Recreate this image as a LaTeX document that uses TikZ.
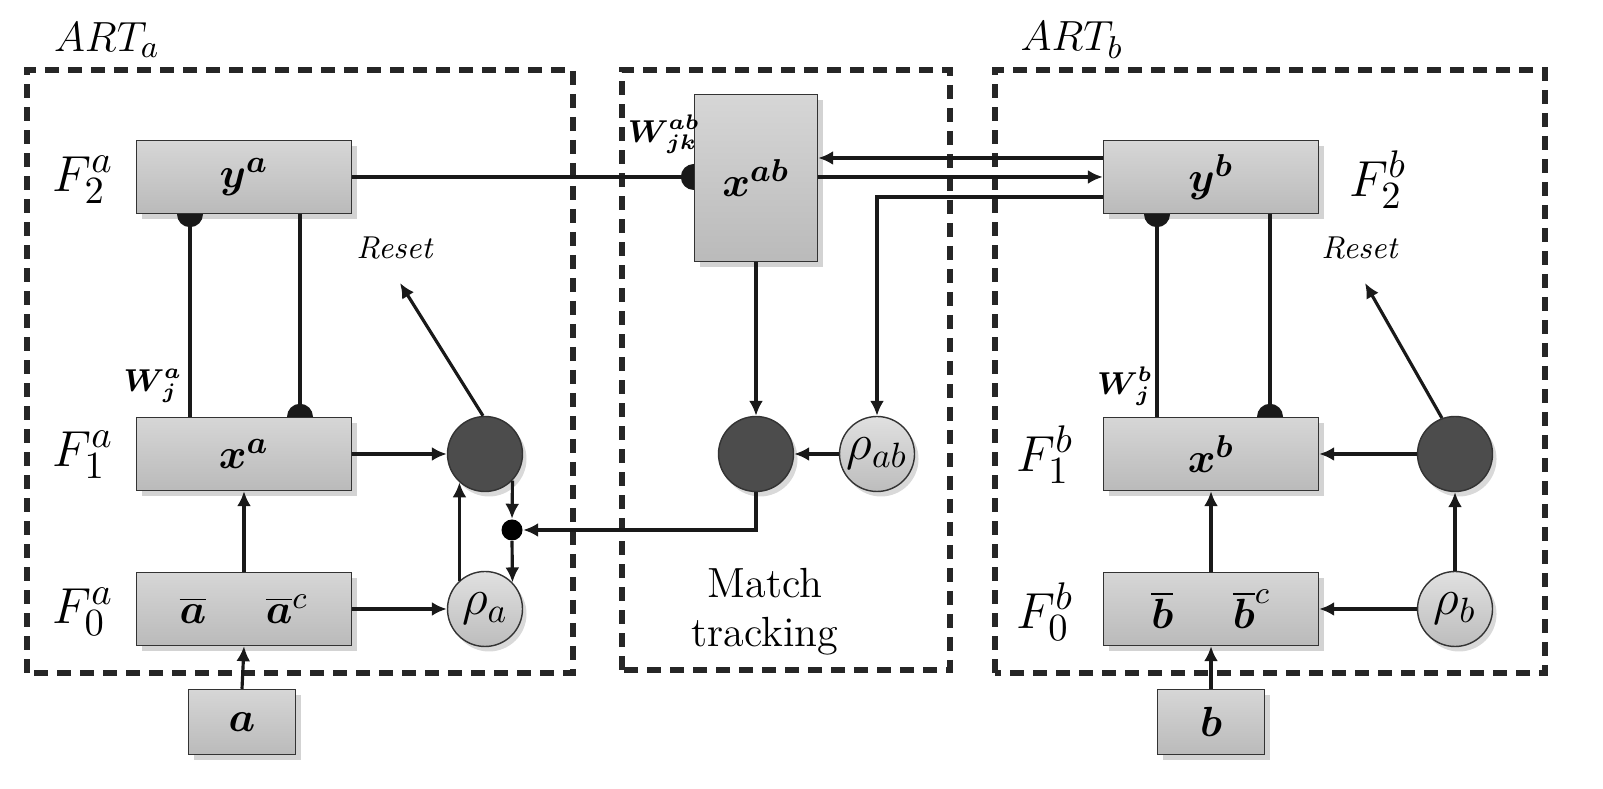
\documentclass[tikz,border=0pt]{standalone}
\usepackage{bm}
\usetikzlibrary{arrows.meta,shadows}

\tikzset{wdot/.pic={\fill[black!90] (-0.13,0) arc[start angle=180,end angle=360,radius=0.13] -- cycle;}}

\begin{document}
\begin{tikzpicture}[>={Latex[length=1.5mm,width=1.4mm]},
  layer/.style={rectangle,draw=black!80,line width=0.4pt,top color=black!16,bottom color=black!27,
    minimum width=2.15cm,minimum height=0.73cm,inner sep=0pt,
    drop shadow={shadow xshift=0.5mm,shadow yshift=-0.6mm,opacity=0.35},font=\fontsize{13}{15}\selectfont},
  inbox/.style={layer,minimum width=1.07cm,minimum height=0.65cm},
  gate/.style={circle,draw=black!80,line width=0.4pt,fill=black!70,minimum size=0.75cm,inner sep=0pt,
    drop shadow={shadow xshift=0.4mm,shadow yshift=-0.5mm,opacity=0.3}},
  vig/.style={circle,draw=black!80,line width=0.4pt,top color=black!12,bottom color=black!26,
    minimum size=0.75cm,inner sep=0pt,drop shadow={shadow xshift=0.4mm,shadow yshift=-0.5mm,opacity=0.3},
    font=\fontsize{14}{16}\selectfont},
  modbox/.style={draw=black!85,line width=1.5pt,dash pattern=on 1.4mm off 0.9mm},
  link/.style={line width=0.9pt,black!90},
  lbl/.style={font=\fontsize{15}{17}\selectfont},
  small/.style={font=\fontsize{9}{11}\selectfont}]
\useasboundingbox (0,0) rectangle (16.03,7.89);

% modules
\draw[modbox] (0.27,1.16) rectangle (5.73,7.19);
\draw[modbox] (6.22,1.19) rectangle (9.50,7.19);
\draw[modbox] (9.95,1.16) rectangle (15.45,7.19);
\node[font=\fontsize{13}{15}\selectfont] (arta) at (1.07,7.49) {$ART_a$};
\node[font=\fontsize{13}{15}\selectfont] (artb) at (10.72,7.49) {$ART_b$};

% ART a
\node[layer] (ya) at (2.44,6.12) {$\bm{y^a}$};
\node[layer] (xa) at (2.44,3.35) {$\bm{x^a}$};
\node[layer] (fa) at (2.44,1.80) {$\overline{\bm{a}}\hspace{1.3em}\overline{\bm{a}}^{c}$};
\node[inbox] (ina) at (2.42,0.67) {$\bm{a}$};
\node[gate] (resa) at (4.85,3.35) {};
\node[vig] (rhoa) at (4.85,1.80) {$\rho_a$};
\node[circle,fill=black,minimum size=0.21cm,inner sep=0pt] (dot) at (5.12,2.59) {};
\node[lbl] at (0.83,6.09) {$F_2^a$};
\node[lbl] at (0.83,3.34) {$F_1^a$};
\node[lbl] at (0.83,1.77) {$F_0^a$};
\node[small] at (1.53,4.03) {$\bm{W}^{\bm a}_{\hspace{1pt}\bm j}$};
\node[small] at (3.95,5.41) {\textit{Reset}};
\coordinate (rsta) at (4.00,5.06);

% map field
\node[layer,minimum width=1.23cm,minimum height=1.67cm] (xab) at (7.56,6.11) {$\bm{x^{ab}}$};
\node[gate] (mtd) at (7.56,3.35) {};
\node[vig] (rhoab) at (8.77,3.35) {$\rho_{ab}$};
\node[small] at (6.64,6.55) {$\bm{W}^{\bm{ab}}_{\hspace{1pt}\bm{jk}}$};
\node[align=center,font=\fontsize{12}{14}\selectfont] at (7.65,1.77) {Match\\tracking};

% ART b
\node[layer] (yb) at (12.11,6.12) {$\bm{y^b}$};
\node[layer] (xb) at (12.11,3.35) {$\bm{x^b}$};
\node[layer] (fb) at (12.11,1.80) {$\overline{\bm{b}}\hspace{1.3em}\overline{\bm{b}}^{c}$};
\node[inbox] (inb) at (12.11,0.67) {$\bm{b}$};
\node[gate] (resb) at (14.55,3.35) {};
\node[vig] (rhob) at (14.55,1.80) {$\rho_b$};
\node[lbl] at (13.78,6.09) {$F_2^b$};
\node[lbl] at (10.45,3.34) {$F_1^b$};
\node[lbl] at (10.45,1.77) {$F_0^b$};
\node[small] at (11.25,4.03) {$\bm{W}^{\bm b}_{\hspace{1pt}\bm j}$};
\node[small] at (13.60,5.41) {\textit{Reset}};
\coordinate (rstb) at (13.65,5.06);

% connections a
\draw[link] ([xshift=-0.54cm]ya.south) -- ([xshift=-0.54cm]xa.north);
\draw[link] ([xshift=0.56cm]ya.south) -- ([xshift=0.56cm]xa.north);
\pic at ([xshift=-0.54cm]ya.south) {wdot};
\pic[rotate=180] at ([xshift=0.56cm]xa.north) {wdot};
\draw[link,->] (xa.east) -- (resa.west);
\draw[link,->] (fa.east) -- (rhoa.west);
\draw[link,->] (fa.north) -- (xa.south);
\draw[link,->] (ina.north) -- (fa.south);
\draw[link,->] (rhoa.132) -- (resa.228);
\draw[link,->] (resa.-44) -- (dot.north);
\draw[link,->] (dot.south) -- (rhoa.44);
\draw[link,->] (resa.93) -- (rsta);

% connections map field
\draw[link] (ya.east) -- (ya.east -| xab.west);
\pic[rotate=-90] at (ya.east -| xab.west) {wdot};
\draw[link,->] ([yshift=0.19cm]yb.west) -- ([yshift=0.19cm]yb.west -| xab.east);
\draw[link,->] (yb.west -| xab.east) -- (yb.west);
\draw[link,->] ([yshift=-0.20cm]yb.west) -| (rhoab.north);
\draw[link,->] (xab.south) -- (mtd.north);
\draw[link,->] (rhoab.west) -- (mtd.east);
\draw[link,->] (mtd.south) |- (dot.east);

% connections b
\draw[link] ([xshift=-0.54cm]yb.south) -- ([xshift=-0.54cm]xb.north);
\draw[link] ([xshift=0.59cm]yb.south) -- ([xshift=0.59cm]xb.north);
\pic at ([xshift=-0.54cm]yb.south) {wdot};
\pic[rotate=180] at ([xshift=0.59cm]xb.north) {wdot};
\draw[link,->] (resb.west) -- (xb.east);
\draw[link,->] (rhob.west) -- (fb.east);
\draw[link,->] (rhob.north) -- (resb.south);
\draw[link,->] (fb.north) -- (xb.south);
\draw[link,->] (inb.north) -- (fb.south);
\draw[link,->] (resb.110) -- (rstb);
\end{tikzpicture}
\end{document}
